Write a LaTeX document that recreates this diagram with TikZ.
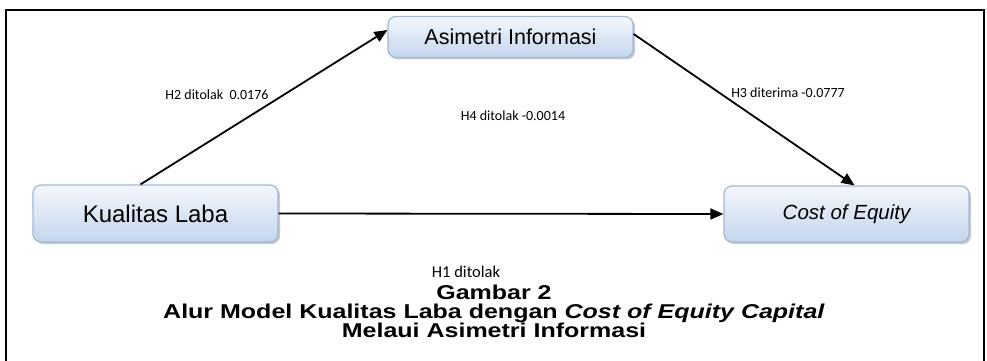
\documentclass[tikz,border=0pt]{standalone}
\usepackage{fontspec}
\setmainfont{Liberation Sans}
\newfontfamily\calibrifont{Carlito}
\newfontfamily\capfont[FakeStretch=1.25]{Liberation Sans}
\usetikzlibrary{arrows.meta,shadows}
\definecolor{boxborder}{HTML}{9DB9DC}
\definecolor{boxtop}{HTML}{F4F7FC}
\definecolor{boxbot}{HTML}{C3D5EC}
\tikzset{
  varbox/.style={draw=boxborder, line width=1.2pt, rounded corners=8pt,
    top color=boxtop, bottom color=boxbot,
    drop shadow={shadow xshift=2pt, shadow yshift=-2pt, fill=black!35, opacity=0.6},
    inner sep=0pt, font=\fontsize{20}{24}\selectfont},
  conn/.style={line width=1.8pt, -{Triangle[length=13pt,width=11pt]}},
  lbl/.style={font=\calibrifont\fontsize{14}{16}\selectfont, inner sep=0pt},
  captiontext/.style={font=\capfont\bfseries\fontsize{20}{19}\selectfont, align=center, inner sep=0pt},
}
\begin{document}
\begin{tikzpicture}[x=1pt,y=-1pt]
\useasboundingbox (0,0) rectangle (987,361);
\fill[white] (0,0) rectangle (987,361);
\draw[line width=2pt] (6,361) -- (6,10) -- (984,10) -- (984,361);
\node[varbox, minimum width=245pt, minimum height=41pt, font=\fontsize{21.5}{24}\selectfont] (ai) at (510.5,37) {Asimetri Informasi};
\node[varbox, minimum width=245pt, minimum height=57pt, font=\fontsize{24}{26}\selectfont] (kl) at (155.5,213.5) {Kualitas Laba};
\node[varbox, minimum width=245pt, minimum height=56pt, font=\fontsize{20.5}{24}\selectfont] (ce) at (846.5,214) {\itshape Cost of Equity};
\draw[conn] ([xshift=-15pt]kl.north) -- ([yshift=7pt]ai.west);
\draw[conn] ([yshift=3pt]ai.east) -- ([xshift=8pt]ce.north);
\draw[conn] (kl.east) -- (ce.west);
\node[lbl] (l2) at (217,95) {H2 ditolak\ \ 0.0176};
\node[lbl] (l4) at (513,116) {H4 ditolak -0.0014};
\node[lbl] (l3) at (788,93) {H3 diterima -0.0777};
\node[lbl, font=\calibrifont\fontsize{16.5}{19}\selectfont] (l1) at (466,272) {H1 ditolak};
\node[captiontext] (captxt) at (494,311) {Gambar 2\\Alur Model Kualitas Laba dengan \textit{Cost of Equity Capital}\\Melaui Asimetri Informasi};
\end{tikzpicture}
\end{document}
